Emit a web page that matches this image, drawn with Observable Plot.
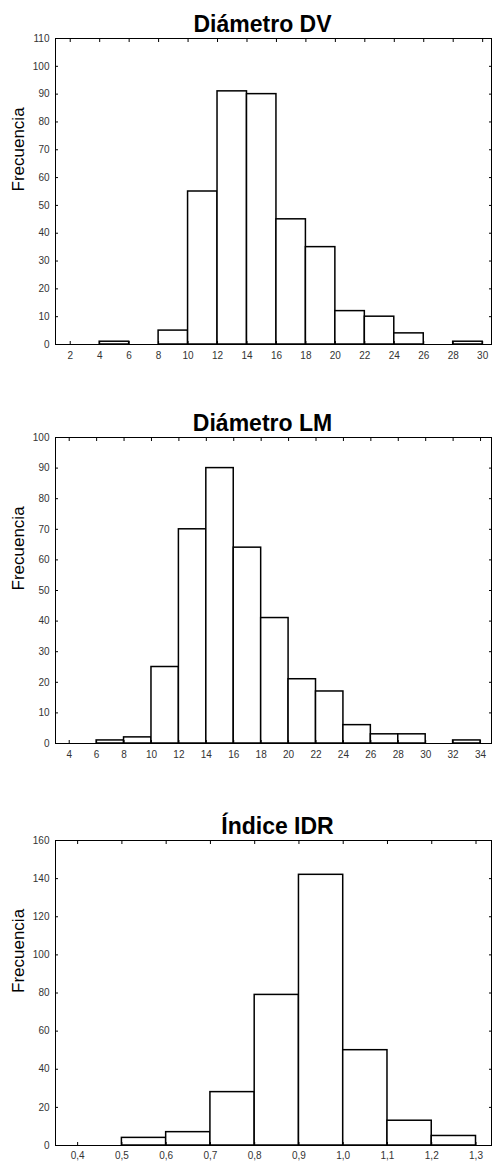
<!DOCTYPE html>
<html>
<head>
<meta charset="utf-8">
<script src="https://cdn.jsdelivr.net/npm/d3@7"></script>
<script src="https://cdn.jsdelivr.net/npm/@observablehq/plot@0.6"></script>
<style>
  html, body { margin: 0; padding: 0; background: white; }
  #root { position: relative; width: 492px; height: 1162px; overflow: hidden; }
  .panel { position: absolute; left: 0; }
</style>
</head>
<body>
<div id="root"></div>
<script>
// ---- Data ----
const dvTitle = "Diámetro DV";
const dvEdges = [2, 4, 6, 8, 10, 12, 14, 16, 18, 20, 22, 24, 26, 28, 30];
const dvCounts = [0, 1, 0, 5, 55, 91, 90, 45, 35, 12, 10, 4, 0, 1];
const dvYTicks = [0, 10, 20, 30, 40, 50, 60, 70, 80, 90, 100, 110];

const lmTitle = "Diámetro LM";
const lmEdges = [4, 6, 8, 10, 12, 14, 16, 18, 20, 22, 24, 26, 28, 30, 32, 34];
const lmCounts = [0, 1, 2, 25, 70, 90, 64, 41, 21, 17, 6, 3, 3, 0, 1];
const lmYTicks = [0, 10, 20, 30, 40, 50, 60, 70, 80, 90, 100];

const idrTitle = "Índice IDR";
const idrEdges = [0.4, 0.5, 0.6, 0.7, 0.8, 0.9, 1.0, 1.1, 1.2, 1.3];
const idrCounts = [0, 4, 7, 28, 79, 142, 50, 13, 5];
const idrYTicks = [0, 20, 40, 60, 80, 100, 120, 140, 160];

const yLabel = "Frecuencia";

// ---- Drawing ----
function panel({title, titleDx, edges, counts, xDomain, yDomain, yTicks, fmt, height, marginTop, marginBottom, labelPad}) {
  const bins = counts
    .map((c, i) => ({x1: edges[i], x2: edges[i + 1], count: c}))
    .filter(d => d.count > 0);
  return Plot.plot({
    width: 492, height,
    marginLeft: 55, marginRight: 1, marginTop, marginBottom,
    style: {fontFamily: "'Liberation Sans', Arial, sans-serif", fontSize: "10px", color: "#333", background: "white", overflow: "visible"},
    x: {domain: xDomain},
    y: {domain: yDomain},
    marks: [
      Plot.rectY(bins, {x1: "x1", x2: "x2", y: "count", fill: "white", stroke: "black", strokeWidth: 1.5}),
      Plot.frame({stroke: "black", strokeWidth: 1}),
      Plot.axisX({anchor: "bottom", ticks: edges, tickSize: -3, tickPadding: labelPad, tickFormat: fmt, stroke: "black", fill: "#333"}),
      Plot.axisX({anchor: "top", ticks: edges, tickSize: -3, tickFormat: () => "", stroke: "black"}),
      Plot.axisY({anchor: "left", ticks: yTicks, tickSize: -3, tickPadding: 9, stroke: "black", fill: "#333", label: null}),
      Plot.axisY({anchor: "right", ticks: yTicks, tickSize: -3, tickFormat: () => "", stroke: "black", label: null}),
      Plot.text([title], {frameAnchor: "top", lineAnchor: "middle", dy: -14, dx: titleDx, fontSize: 23, fontWeight: "bold", fill: "black"}),
      Plot.text([yLabel], {frameAnchor: "left", dx: -37, rotate: -90, fontSize: 17, fill: "black"})
    ]
  });
}

const root = document.getElementById("root");
function place(svg, top) {
  const d = document.createElement("div");
  d.className = "panel";
  d.style.top = top + "px";
  d.appendChild(svg);
  root.appendChild(d);
}

const intFmt = d => String(d);
const decFmt = d => d.toFixed(1).replace(".", ",");

place(panel({title: dvTitle, titleDx: -11, edges: dvEdges, counts: dvCounts, xDomain: [1, 30.6], yDomain: [0, 110], yTicks: dvYTicks, fmt: intFmt, height: 370, marginTop: 38, marginBottom: 26, labelPad: 10}), 0);
place(panel({title: lmTitle, titleDx: -11, edges: lmEdges, counts: lmCounts, xDomain: [3, 34.8], yDomain: [0, 100], yTicks: lmYTicks, fmt: intFmt, height: 370, marginTop: 37, marginBottom: 27, labelPad: 10}), 400);
place(panel({title: idrTitle, titleDx: 4, edges: idrEdges, counts: idrCounts, xDomain: [0.35, 1.335], yDomain: [0, 160], yTicks: idrYTicks, fmt: decFmt, height: 359, marginTop: 37, marginBottom: 17, labelPad: 9}), 803);
</script>
</body>
</html>
